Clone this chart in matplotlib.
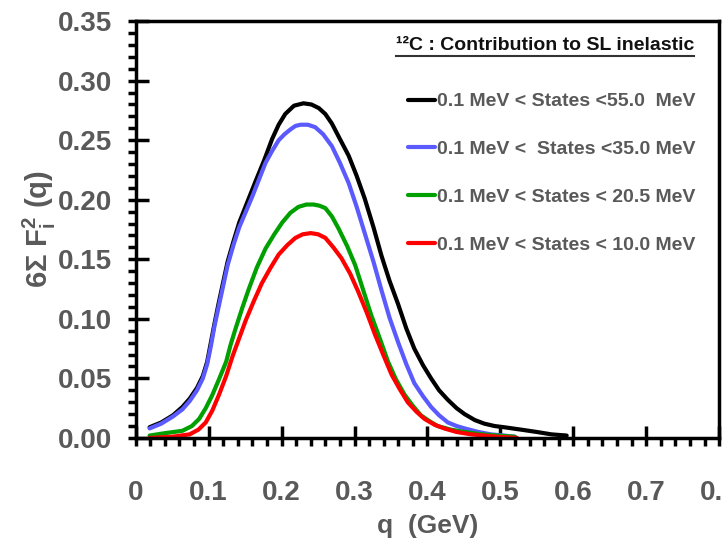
import matplotlib
matplotlib.use("Agg")
import matplotlib.pyplot as plt
from matplotlib.ticker import MultipleLocator, FixedFormatter, FixedLocator
from matplotlib.lines import Line2D

# values
q_55 = [0.019, 0.035, 0.051, 0.064, 0.074, 0.084, 0.092, 0.098, 0.103, 0.108, 0.114, 0.120,
        0.126, 0.134, 0.142, 0.153, 0.164, 0.176, 0.187, 0.196, 0.205, 0.217, 0.230, 0.241,
        0.251, 0.260, 0.269, 0.280, 0.292, 0.303, 0.314, 0.326, 0.337, 0.348, 0.360, 0.371,
        0.382, 0.394, 0.405, 0.416, 0.428, 0.440, 0.451, 0.465, 0.478, 0.492, 0.505, 0.528,
        0.550, 0.570, 0.591]
f_55 = [0.009, 0.013, 0.019, 0.026, 0.033, 0.042, 0.052, 0.064, 0.080, 0.096, 0.114, 0.131,
        0.148, 0.165, 0.181, 0.198, 0.215, 0.233, 0.251, 0.263, 0.272, 0.279, 0.281, 0.280,
        0.277, 0.272, 0.264, 0.251, 0.237, 0.220, 0.201, 0.177, 0.153, 0.132, 0.112, 0.092,
        0.075, 0.061, 0.050, 0.040, 0.032, 0.025, 0.020, 0.015, 0.012, 0.010, 0.009, 0.007,
        0.005, 0.003, 0.002]

q_35 = [0.019, 0.035, 0.051, 0.064, 0.074, 0.084, 0.092, 0.098, 0.103, 0.108, 0.114, 0.120,
        0.126, 0.134, 0.142, 0.151, 0.160, 0.169, 0.178, 0.187, 0.196, 0.204, 0.212, 0.219,
        0.226, 0.236, 0.246, 0.257, 0.269, 0.280, 0.292, 0.303, 0.314, 0.326, 0.337, 0.348,
        0.360, 0.371, 0.382, 0.394, 0.405, 0.416, 0.428, 0.440, 0.451, 0.470, 0.487, 0.505,
        0.520]
f_35 = [0.008, 0.012, 0.018, 0.024, 0.031, 0.040, 0.050, 0.062, 0.077, 0.094, 0.111, 0.128,
        0.145, 0.162, 0.177, 0.190, 0.203, 0.217, 0.231, 0.241, 0.250, 0.255, 0.259, 0.262,
        0.263, 0.263, 0.261, 0.255, 0.245, 0.231, 0.214, 0.194, 0.172, 0.148, 0.124, 0.101,
        0.080, 0.062, 0.046, 0.035, 0.026, 0.019, 0.013, 0.010, 0.008, 0.005, 0.003, 0.002,
        0.001]

q_205 = [0.019, 0.040, 0.064, 0.077, 0.087, 0.096, 0.105, 0.114, 0.124, 0.130, 0.137, 0.146,
         0.155, 0.166, 0.178, 0.190, 0.201, 0.212, 0.223, 0.234, 0.244, 0.252, 0.260, 0.269,
         0.278, 0.290, 0.301, 0.312, 0.323, 0.335, 0.346, 0.357, 0.369, 0.380, 0.391, 0.403,
         0.414, 0.432, 0.451, 0.475, 0.496, 0.520]
f_205 = [0.002, 0.004, 0.006, 0.010, 0.016, 0.025, 0.036, 0.049, 0.064, 0.078, 0.092, 0.109,
         0.125, 0.143, 0.159, 0.171, 0.181, 0.189, 0.194, 0.196, 0.196, 0.195, 0.193, 0.186,
         0.176, 0.161, 0.145, 0.124, 0.103, 0.083, 0.064, 0.049, 0.036, 0.027, 0.019, 0.014,
         0.010, 0.007, 0.005, 0.003, 0.002, 0.001]

q_10 = [0.019, 0.050, 0.074, 0.086, 0.096, 0.105, 0.114, 0.124, 0.133, 0.142, 0.151, 0.162,
        0.173, 0.185, 0.196, 0.208, 0.219, 0.229, 0.240, 0.250, 0.260, 0.271, 0.282, 0.294,
        0.305, 0.317, 0.328, 0.340, 0.351, 0.362, 0.373, 0.385, 0.396, 0.410, 0.423, 0.440,
        0.460, 0.496, 0.523]
f_10 = [0.000, 0.001, 0.003, 0.007, 0.013, 0.023, 0.036, 0.052, 0.069, 0.084, 0.099, 0.115,
        0.130, 0.143, 0.154, 0.162, 0.168, 0.171, 0.172, 0.171, 0.168, 0.160, 0.151, 0.138,
        0.123, 0.105, 0.087, 0.069, 0.053, 0.041, 0.030, 0.022, 0.016, 0.011, 0.008, 0.005,
        0.003, 0.001, 0.000]

labels = ["0.1 MeV < States <55.0  MeV",
          "0.1 MeV <  States <35.0 MeV",
          "0.1 MeV < States < 20.5 MeV",
          "0.1 MeV < States < 10.0 MeV"]
colors = ["black", "#5a5aff", "#00a000", "#ff0000"]

x_ticks = [0, 0.1, 0.2, 0.3, 0.4, 0.5, 0.6, 0.7, 0.8]
x_ticklabels = ["0", "0.1", "0.2", "0.3", "0.4", "0.5", "0.6", "0.7", "0.8"]
y_ticks = [0, 0.05, 0.10, 0.15, 0.20, 0.25, 0.30, 0.35]
y_ticklabels = ["0.00", "0.05", "0.10", "0.15", "0.20", "0.25", "0.30", "0.35"]

GRAY = "#595959"
plt.rcParams["font.family"] = ["Liberation Sans", "DejaVu Sans"]
plt.rcParams["font.weight"] = "bold"
plt.rcParams["axes.labelweight"] = "bold"
plt.rcParams["mathtext.default"] = "regular"

fig = plt.figure(figsize=(7.22, 5.42), dpi=100)
ax = fig.add_axes([0.188, 0.192, 0.808, 0.769])

for q, f, c, lab in zip([q_55, q_35, q_205, q_10], [f_55, f_35, f_205, f_10], colors, labels):
    ax.plot(q, f, color=c, lw=3, label=lab, solid_capstyle="round", solid_joinstyle="round")

ax.set_xlim(0, 0.8)
ax.set_ylim(0, 0.35)
for s in ax.spines.values():
    s.set_linewidth(2.5)

ax.xaxis.set_major_locator(FixedLocator(x_ticks))
ax.xaxis.set_major_formatter(FixedFormatter(x_ticklabels))
ax.yaxis.set_major_locator(FixedLocator(y_ticks))
ax.yaxis.set_major_formatter(FixedFormatter(y_ticklabels))
ax.xaxis.set_minor_locator(MultipleLocator(0.02))
ax.yaxis.set_minor_locator(MultipleLocator(0.01))
ax.xaxis.remove_overlapping_locs = False
ax.yaxis.remove_overlapping_locs = False
ax.tick_params(which="major", direction="in", length=9, width=2.5,
               labelsize=20, labelcolor=GRAY)
ax.tick_params(which="minor", direction="out", length=6, width=2.5)
ax.tick_params(axis="x", which="major", pad=30)
ax.tick_params(axis="y", which="major", pad=17)

ax.set_xlabel("q  (GeV)", fontsize=19, color=GRAY, labelpad=6)
ax.set_ylabel(r"6Σ F$^{2}_{i}$ (q)", fontsize=21, color=GRAY, labelpad=0)

leg = ax.legend(loc="upper left", bbox_to_anchor=(0.467, 0.828), frameon=False,
                fontsize=14, handlelength=1.4, handletextpad=0.1, labelspacing=1.55,
                borderaxespad=0, borderpad=0)
for t in leg.get_texts():
    t.set_color(GRAY)
for h in leg.legend_handles:
    h.set_linewidth(3)

title = ax.text(0.702, 0.942, "¹²C : Contribution to SL inelastic", transform=ax.transAxes,
                ha="center", va="center", fontsize=14, color="#111111")

fig.canvas.draw()
bb = title.get_window_extent()
fig.add_artist(Line2D([bb.x0 / fig.bbox.width, bb.x1 / fig.bbox.width],
                      [(bb.y0 - 2) / fig.bbox.height] * 2, color="#333333", lw=1.5))

fig.savefig("out.png", dpi=100)
